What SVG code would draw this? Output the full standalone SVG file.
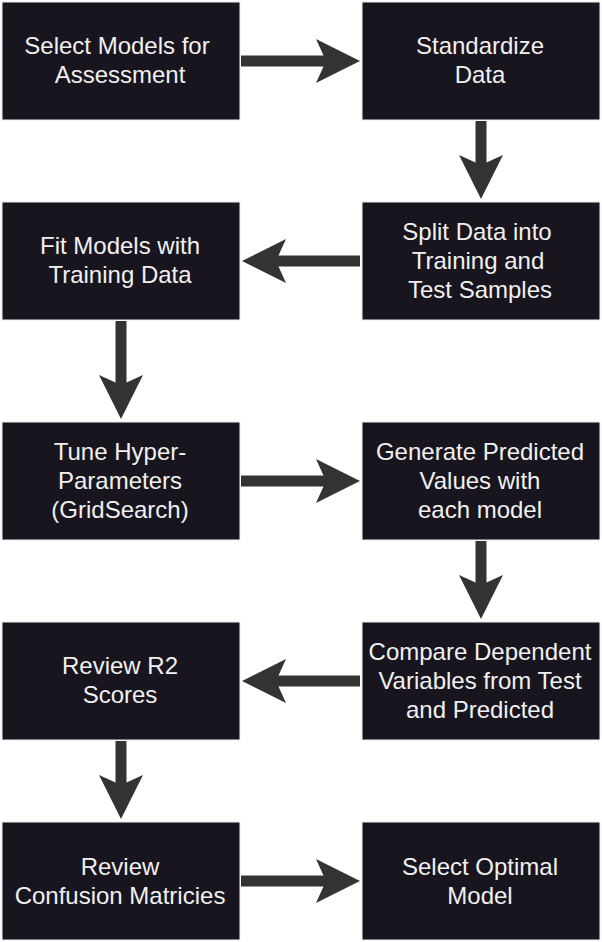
<svg xmlns="http://www.w3.org/2000/svg" width="602" height="942" viewBox="0 0 602 942">
<style>
.box{fill:#18151e;stroke:#eeeeee;stroke-width:1}
.lbl{font-family:"Liberation Sans",Arial,sans-serif;font-size:24px;fill:#f0f0f0;text-anchor:middle}
.conn{stroke:#333333;stroke-width:11;fill:none}
</style>
<defs>
<marker id="ah" markerUnits="userSpaceOnUse" markerWidth="44" markerHeight="44" refX="10" refY="22" orient="auto" viewBox="0 0 44 44">
<path d="M0,0 L44,22 L0,44 L10,22 Z" fill="#333333"/>
</marker>
</defs>
<rect width="602" height="942" fill="#ffffff"/>
<g id="connectors">
<path class="conn" d="M241,61 L326,61" marker-end="url(#ah)"/>
<path class="conn" d="M481,121 L481,165" marker-end="url(#ah)"/>
<path class="conn" d="M360,261 L276,261" marker-end="url(#ah)"/>
<path class="conn" d="M121,321 L121,385" marker-end="url(#ah)"/>
<path class="conn" d="M241,481 L326,481" marker-end="url(#ah)"/>
<path class="conn" d="M481,541 L481,585" marker-end="url(#ah)"/>
<path class="conn" d="M360,681 L276,681" marker-end="url(#ah)"/>
<path class="conn" d="M121,741 L121,785" marker-end="url(#ah)"/>
<path class="conn" d="M241,881 L326,881" marker-end="url(#ah)"/>
</g>
<g id="n1"><rect class="box" x="2" y="2" width="238" height="118"/>
<text class="lbl"><tspan x="117" y="54">Select Models for</tspan><tspan x="120" y="83">Assessment</tspan></text></g>
<g id="n2"><rect class="box" x="362" y="2" width="238" height="118"/>
<text class="lbl"><tspan x="480" y="54">Standardize</tspan><tspan x="480" y="83">Data</tspan></text></g>
<g id="n3"><rect class="box" x="362" y="202" width="238" height="118"/>
<text class="lbl"><tspan x="477" y="239.5">Split Data into</tspan><tspan x="478" y="268.5">Training and</tspan><tspan x="480" y="297.5">Test Samples</tspan></text></g>
<g id="n4"><rect class="box" x="2" y="202" width="238" height="118"/>
<text class="lbl"><tspan x="120" y="254">Fit Models with</tspan><tspan x="120" y="283">Training Data</tspan></text></g>
<g id="n5"><rect class="box" x="2" y="422" width="238" height="118"/>
<text class="lbl"><tspan x="120" y="459.5">Tune Hyper-</tspan><tspan x="120" y="488.5">Parameters</tspan><tspan x="120" y="517.5">(GridSearch)</tspan></text></g>
<g id="n6"><rect class="box" x="362" y="422" width="238" height="118"/>
<text class="lbl"><tspan x="480" y="459.5">Generate Predicted</tspan><tspan x="480" y="488.5">Values with</tspan><tspan x="480" y="517.5">each model</tspan></text></g>
<g id="n7"><rect class="box" x="362" y="622" width="238" height="118"/>
<text class="lbl"><tspan x="480" y="659.5">Compare Dependent</tspan><tspan x="480" y="688.5">Variables from Test</tspan><tspan x="480" y="717.5">and Predicted</tspan></text></g>
<g id="n8"><rect class="box" x="2" y="622" width="238" height="118"/>
<text class="lbl"><tspan x="120" y="674">Review R2</tspan><tspan x="120" y="703">Scores</tspan></text></g>
<g id="n9"><rect class="box" x="2" y="822" width="238" height="118"/>
<text class="lbl"><tspan x="120" y="874.5">Review</tspan><tspan x="120" y="903.5">Confusion Matricies</tspan></text></g>
<g id="n10"><rect class="box" x="362" y="822" width="238" height="118"/>
<text class="lbl"><tspan x="480" y="874.5">Select Optimal</tspan><tspan x="480" y="903.5">Model</tspan></text></g>
</svg>
